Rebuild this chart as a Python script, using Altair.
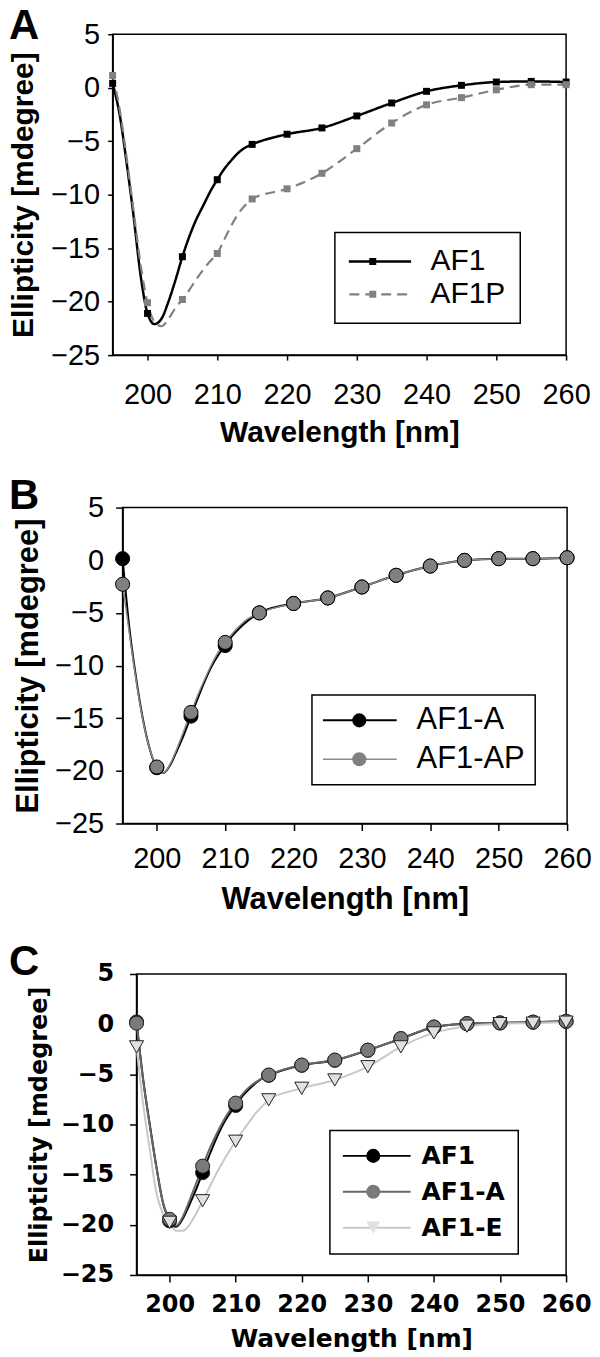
import altair as alt
import pandas as pd

# ---------------- data ----------------
WL_MARK = [195, 200, 205, 210, 215, 220, 225, 230, 235, 240, 245, 250, 255, 260]
WL_LINE = [195, 196, 197, 198, 199, 200, 201, 202, 203, 204, 205, 206, 207, 208, 209, 210,
           211, 212, 213, 214, 215, 220, 225, 230, 235, 240, 245, 250, 255, 260]

# Panel A
A_AF1_MARK = [0.4, -21.1, -15.8, -8.6, -5.3, -4.35, -3.76, -2.64, -1.43, -0.34, 0.22, 0.53, 0.59, 0.53]
A_AF1P_MARK = [1.15, -20.1, -19.8, -15.5, -10.4, -9.45, -8.0, -5.7, -3.3, -1.6, -0.93, -0.2, 0.28, 0.28]
A_AF1_LINE = [0.4, -2.5, -7.0, -12.0, -17.5, -21.1, -22.1, -21.6, -20.0, -18.0, -15.8, -13.9, -12.3, -11.0,
              -9.7, -8.6, -7.6, -6.8, -6.1, -5.6, -5.3, -4.35, -3.76, -2.64, -1.43, -0.34, 0.22, 0.53, 0.59, 0.53]
A_AF1P_LINE = [1.15, -2.0, -6.5, -11.5, -16.5, -20.1, -21.9, -22.3, -21.6, -20.6, -19.8, -18.9, -17.9, -17.0,
               -16.2, -15.5, -14.2, -12.9, -11.8, -11.0, -10.4, -9.45, -8.0, -5.7, -3.3, -1.6, -0.93, -0.2, 0.28, 0.28]

# Panel B
B_A_MARK = [0.15, -19.7, -14.8, -8.1, -5.0, -4.1, -3.58, -2.54, -1.43, -0.55, -0.01, 0.15, 0.15, 0.24]
B_AP_MARK = [-2.28, -19.63, -14.45, -7.8, -5.0, -4.11, -3.58, -2.54, -1.43, -0.55, -0.01, 0.15, 0.15, 0.24]
B_A_LINE = [0.15, -6.5, -11.3, -15.2, -18.0, -19.7, -20.2, -19.4, -18.0, -16.5, -14.8, -13.1, -11.5, -10.1,
            -9.0, -8.1, -7.2, -6.5, -5.9, -5.4, -5.0, -4.1, -3.58, -2.54, -1.43, -0.55, -0.01, 0.15, 0.15, 0.24]
B_AP_LINE = [-2.28, -7.0, -11.5, -15.3, -18.0, -19.63, -20.2, -19.3, -17.8, -16.1, -14.45, -12.8, -11.3, -9.9,
             -8.7, -7.8, -7.0, -6.3, -5.7, -5.3, -5.0, -4.11, -3.58, -2.54, -1.43, -0.55, -0.01, 0.15, 0.15, 0.24]

# Panel C
C_AF1_MARK = [0.22, -19.6, -14.8, -8.1, -5.1, -4.1, -3.6, -2.6, -1.45, -0.3, 0.05, 0.12, 0.2, 0.28]
C_A_MARK = [0.1, -19.45, -14.15, -7.87, -5.07, -4.08, -3.58, -2.59, -1.44, -0.28, 0.05, 0.12, 0.2, 0.28]
C_E_MARK = [-2.26, -19.75, -17.6, -11.67, -7.54, -6.39, -5.56, -4.24, -2.26, -0.87, -0.2, 0.05, 0.1, 0.2]
C_AF1_LINE = [0.22, -5.5, -10.0, -14.2, -17.8, -19.6, -20.2, -19.4, -18.0, -16.5, -14.8, -13.1, -11.5, -10.1,
              -9.0, -8.1, -7.2, -6.5, -5.9, -5.4, -5.1, -4.1, -3.6, -2.6, -1.45, -0.3, 0.05, 0.12, 0.2, 0.28]
C_A_LINE = [0.1, -5.6, -10.1, -14.3, -17.8, -19.45, -20.1, -19.2, -17.6, -15.9, -14.15, -12.5, -11.1, -9.8,
            -8.7, -7.87, -7.0, -6.3, -5.8, -5.4, -5.07, -4.08, -3.58, -2.59, -1.44, -0.28, 0.05, 0.12, 0.2, 0.28]
C_E_LINE = [-2.26, -8.0, -12.5, -16.8, -18.9, -19.75, -20.6, -20.6, -20.0, -18.9, -17.6, -16.3, -15.0, -13.8,
            -12.7, -11.67, -10.7, -9.8, -8.9, -8.2, -7.54, -6.39, -5.56, -4.24, -2.26, -0.87, -0.2, 0.05, 0.1, 0.2]

X_TICKS = [200, 210, 220, 230, 240, 250, 260]
Y_TICKS = [-25, -20, -15, -10, -5, 0, 5]


def line_frame(series_names, arrays):
    rows = []
    for name, vals in zip(series_names, arrays):
        for w, v in zip(WL_LINE, vals):
            rows.append({"wl": w, "val": v, "series": name})
    return pd.DataFrame(rows)


def mark_frame(series_names, arrays):
    rows = []
    for i, (name, vals) in enumerate(zip(series_names, arrays)):
        for w, v in zip(WL_MARK, vals):
            rows.append({"wl": w, "val": v, "name": name, "ord": i})
    return pd.DataFrame(rows)


def panel(letter, names, line_arrays, mark_arrays, cfg):
    ldf = line_frame(names, line_arrays)
    mdf = mark_frame(names, mark_arrays)
    font = cfg["font"]
    x = alt.X("wl:Q", scale=alt.Scale(domain=[195, 260], nice=False, zero=False),
              axis=alt.Axis(values=X_TICKS, title="Wavelength [nm]", grid=False,
                            labelFont=font, labelFontSize=cfg["tick_fs"], labelFontWeight=cfg["tick_fw"],
                            labelColor="black", labelPadding=cfg["xlab_pad"],
                            titleFont=font, titleFontSize=cfg["xt_fs"], titleFontWeight="bold",
                            titleColor="black", titlePadding=cfg["xt_pad"],
                            domainColor="black", domainWidth=1.5, tickColor="black",
                            tickWidth=1.5, tickSize=cfg["tick"], labelFlush=False))
    y = alt.Y("val:Q", scale=alt.Scale(domain=[-25, 5], nice=False, zero=False),
              axis=alt.Axis(values=Y_TICKS, title="Ellipticity [mdegree]", grid=False,
                            labelFont=font, labelFontSize=cfg["tick_fs"], labelFontWeight=cfg["tick_fw"],
                            labelColor="black", labelPadding=cfg["ylab_pad"],
                            titleFont=font, titleFontSize=cfg["yt_fs"], titleFontWeight="bold",
                            titleColor="black", titlePadding=cfg["yt_pad"],
                            minExtent=cfg["ext"], maxExtent=cfg["ext"],
                            domainColor="black", domainWidth=1.5, tickColor="black",
                            tickWidth=1.5, tickSize=cfg["tick"], labelFlush=False))

    leg_common = dict(orient="none", legendX=cfg["lx"], legendY=cfg["ly"], title=None,
                      labelFont=font, labelFontSize=cfg["leg_fs"], labelFontWeight=cfg["tick_fw"],
                      labelColor="black", padding=cfg["lpad"], rowPadding=cfg["rowpad"],
                      clipHeight=cfg["clip"])
    line_leg = alt.Legend(symbolType="stroke", symbolSize=cfg["L"] ** 2, symbolStrokeWidth=2,
                          symbolOffset=cfg["so_line"], labelOpacity=0, zindex=0, **leg_common)
    mark_leg = alt.Legend(symbolSize=cfg["msize"], symbolStrokeColor=cfg["mstroke"],
                          symbolStrokeWidth=cfg["mstroke_w"], symbolOffset=cfg["so_mark"],
                          labelOffset=cfg["lab_off"], strokeColor="black", zindex=1, **leg_common)

    # line scales use data-driven (sorted) domains so their legend stays separate
    enc_line = dict(
        x=x, y=y,
        color=alt.Color("series:N", scale=alt.Scale(range=cfg["line_colors"]), legend=line_leg),
        strokeWidth=alt.StrokeWidth("series:N", scale=alt.Scale(range=cfg["line_widths"]), legend=None),
    )
    if "dashes" in cfg:
        enc_line["strokeDash"] = alt.StrokeDash("series:N", scale=alt.Scale(range=cfg["dashes"]),
                                                legend=line_leg)
    lines = alt.Chart(ldf).mark_line(interpolate="monotone").encode(**enc_line)

    pts = alt.Chart(mdf).mark_point(filled=True, opacity=1, size=cfg["msize"],
                                    stroke=cfg["mstroke"], strokeWidth=cfg["mstroke_w"]).encode(
        x=x, y=y,
        fill=alt.Fill("name:N", scale=alt.Scale(domain=names, range=cfg["fills"]), legend=mark_leg),
        shape=alt.Shape("name:N", scale=alt.Scale(domain=names, range=cfg["shapes"]), legend=mark_leg),
        order=alt.Order("ord:Q"),
    )

    body = alt.layer(lines, pts).properties(
        width=cfg["w"], height=cfg["h"],
        title=alt.TitleParams(letter, anchor="start", frame="bounds", font="Liberation Sans",
                              fontSize=42, fontWeight="bold", color="black",
                              offset=cfg["t_off"], dx=cfg["t_dx"]),
    )
    # an invisible spacer on the left gives every panel its own left offset
    spacer = alt.Chart(pd.DataFrame({"s": [0]})).mark_point(opacity=0).encode(
        x=alt.value(0), y=alt.value(0)
    ).properties(width=1, height=1, view=alt.ViewBackground(stroke="transparent"))
    return alt.hconcat(spacer, body, spacing=cfg["sp"])


cfgA = dict(font="Liberation Sans", tick_fs=29, tick_fw="normal", xt_fs=30, yt_fs=30,
            xlab_pad=21, xt_pad=8, ylab_pad=8, yt_pad=16, ext=58, tick=5,
            lx=320, ly=199, leg_fs=30, lpad=14, rowpad=3, clip=30, L=78, so_line=-17,
            msize=49, mstroke="#000", mstroke_w=0, so_mark=9, lab_off=43,
            line_colors=["#000000", "#808080"], line_widths=[2.5, 2.2],
            dashes=[[1, 0], [10, 6]],
            fills=["#000000", "#808080"], shapes=["square", "square"],
            w=455, h=322, t_off=-28, t_dx=0, sp=-12)

cfgB = dict(font="Liberation Sans", tick_fs=29, tick_fw="normal", xt_fs=31, yt_fs=31,
            xlab_pad=14, xt_pad=11, ylab_pad=12, yt_pad=16, ext=62, tick=7,
            lx=297, ly=188, leg_fs=31, lpad=10, rowpad=7, clip=31, L=74, so_line=0,
            msize=200, mstroke="#000", mstroke_w=1, so_mark=22, lab_off=42,
            line_colors=["#000000", "#8a8a8a"], line_widths=[2, 1.5],
            fills=["#000000", "#808080"], shapes=["circle", "circle"],
            w=446, h=317, t_off=-24, t_dx=-4, sp=-12)

cfgC = dict(font="DejaVu Sans", tick_fs=24, tick_fw="bold", xt_fs=25, yt_fs=24,
            xlab_pad=11, xt_pad=10, ylab_pad=16, yt_pad=17, ext=68, tick=7,
            lx=315, ly=157, leg_fs=25, lpad=13, rowpad=10, clip=25, L=74, so_line=-7,
            msize=200, mstroke="#222", mstroke_w=1, so_mark=18, lab_off=36,
            line_colors=["#000000", "#666666", "#c8c8c8"], line_widths=[2, 2, 2],
            fills=["#000000", "#7a7a7a", "#e0e0e0"], shapes=["circle", "circle", "triangle-down"],
            w=431, h=302, t_off=-22, t_dx=-19, sp=-12)

pA = panel("A", ["AF1", "AF1P"], [A_AF1_LINE, A_AF1P_LINE], [A_AF1_MARK, A_AF1P_MARK], cfgA)
pB = panel("B", ["AF1-A", "AF1-AP"], [B_A_LINE, B_AP_LINE], [B_A_MARK, B_AP_MARK], cfgB)
pC = panel("C", ["AF1", "AF1-A", "AF1-E"], [C_AF1_LINE, C_A_LINE, C_E_LINE],
           [C_AF1_MARK, C_A_MARK, C_E_MARK], cfgC)

chart = alt.vconcat(pA, pB, pC, spacing=25).resolve_scale(
    color="independent", fill="independent", shape="independent", strokeDash="independent",
    strokeWidth="independent"
).resolve_legend(color="independent", fill="independent", shape="independent",
                 strokeDash="independent").configure_view(
    stroke="black", strokeWidth=1.5
).configure_legend(strokeWidth=1.5).properties(
    padding={"top": -6, "left": 0, "right": 0, "bottom": 0}, background="white")

chart.save("out.html", embed_options={"renderer": "svg", "actions": False})
